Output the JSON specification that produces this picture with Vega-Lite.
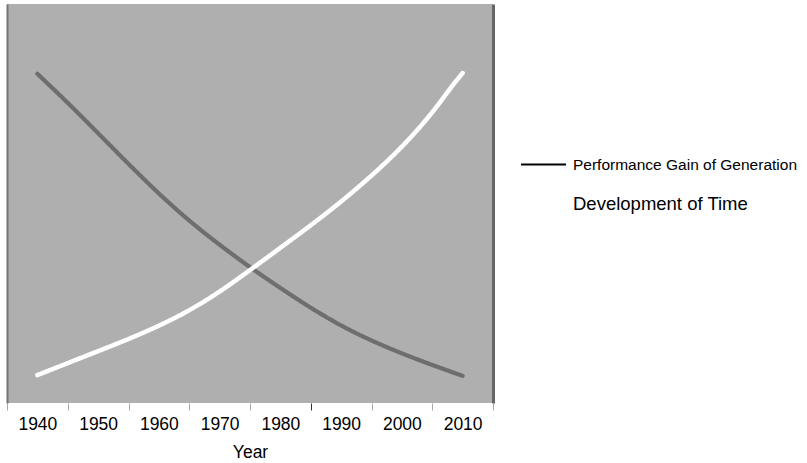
{
  "$schema": "https://vega.github.io/schema/vega-lite/v6.json",
  "width": 486,
  "height": 399,
  "padding": {"left": 6, "top": 4, "right": 5, "bottom": 5},
  "background": "white",
  "config": {
    "view": {"fill": "#afafaf", "stroke": null},
    "font": "Liberation Sans",
    "axis": {"grid": false, "labelFont": "Liberation Sans", "titleFont": "Liberation Sans", "labelColor": "black", "titleColor": "black"},
    "legend": {"labelFont": "Liberation Sans", "titleFont": "Liberation Sans"}
  },
  "data": {
    "values": [
      {"year": 1940, "value": 82.5, "series": "Performance Gain of Generation"},
      {"year": 1945, "value": 75.3, "series": "Performance Gain of Generation"},
      {"year": 1950, "value": 67.6, "series": "Performance Gain of Generation"},
      {"year": 1955, "value": 59.9, "series": "Performance Gain of Generation"},
      {"year": 1960, "value": 52.4, "series": "Performance Gain of Generation"},
      {"year": 1965, "value": 45.6, "series": "Performance Gain of Generation"},
      {"year": 1970, "value": 39.6, "series": "Performance Gain of Generation"},
      {"year": 1975, "value": 34.0, "series": "Performance Gain of Generation"},
      {"year": 1980, "value": 28.8, "series": "Performance Gain of Generation"},
      {"year": 1985, "value": 23.8, "series": "Performance Gain of Generation"},
      {"year": 1990, "value": 19.3, "series": "Performance Gain of Generation"},
      {"year": 1995, "value": 15.6, "series": "Performance Gain of Generation"},
      {"year": 2000, "value": 12.4, "series": "Performance Gain of Generation"},
      {"year": 2005, "value": 9.5, "series": "Performance Gain of Generation"},
      {"year": 2010, "value": 6.8, "series": "Performance Gain of Generation"},
      {"year": 1940, "value": 7.0, "series": "Development of Time"},
      {"year": 1945, "value": 10.0, "series": "Development of Time"},
      {"year": 1950, "value": 13.0, "series": "Development of Time"},
      {"year": 1955, "value": 16.0, "series": "Development of Time"},
      {"year": 1960, "value": 19.3, "series": "Development of Time"},
      {"year": 1965, "value": 23.1, "series": "Development of Time"},
      {"year": 1970, "value": 27.8, "series": "Development of Time"},
      {"year": 1975, "value": 33.3, "series": "Development of Time"},
      {"year": 1980, "value": 38.9, "series": "Development of Time"},
      {"year": 1985, "value": 44.5, "series": "Development of Time"},
      {"year": 1990, "value": 50.4, "series": "Development of Time"},
      {"year": 1995, "value": 56.9, "series": "Development of Time"},
      {"year": 2000, "value": 64.0, "series": "Development of Time"},
      {"year": 2005, "value": 72.6, "series": "Development of Time"},
      {"year": 2008, "value": 79.0, "series": "Development of Time"},
      {"year": 2010, "value": 82.7, "series": "Development of Time"}
    ]
  },
  "encoding": {
    "strokeDash": {
      "field": "series",
      "type": "nominal",
      "scale": {"domain": ["Performance Gain of Generation", "Development of Time"], "range": [[1, 0], [1, 0]]},
      "legend": {
        "title": null,
        "orient": "none",
        "legendX": 513,
        "legendY": 137,
        "padding": 0,
        "symbolType": "stroke",
        "symbolSize": 2025,
        "symbolStrokeColor": "black",
        "symbolStrokeWidth": 1.8,
        "symbolDash": [1, 0],
        "symbolOpacity": {"expr": "datum.value == 'Development of Time' ? 0 : 1"},
        "labelFontSize": {"expr": "datum.value == 'Development of Time' ? 18.5 : 15.5"},
        "labelColor": "black",
        "labelOffset": 6,
        "labelLimit": 400,
        "rowPadding": 7
      }
    }
  },
  "layer": [
    {
      "transform": [{"filter": "datum.series == 'Performance Gain of Generation'"}],
      "mark": {"type": "line", "color": "#6e6e6e", "strokeWidth": 4.2, "strokeCap": "round", "interpolate": "basis"},
      "encoding": {
        "x": {
          "field": "year", "type": "quantitative",
          "scale": {"domain": [1935, 2015], "nice": false, "zero": false},
          "axis": {
            "values": [1940, 1950, 1960, 1970, 1980, 1990, 2000, 2010],
            "format": "d", "ticks": false, "tickSize": 0, "domain": false,
            "labelFontSize": 17.5, "labelPadding": 12,
            "title": "Year", "titleFontSize": 17.5, "titleFontWeight": "normal", "titlePadding": 11
          }
        },
        "y": {
          "field": "value", "type": "quantitative",
          "scale": {"domain": [0, 100], "nice": false},
          "axis": {"orient": "left", "labels": false, "ticks": false, "title": null, "domain": true, "domainColor": "#747474", "domainWidth": 2}
        }
      }
    },
    {
      "transform": [{"filter": "datum.series == 'Development of Time'"}],
      "mark": {"type": "line", "color": "#ffffff", "strokeWidth": 4.5, "strokeCap": "round", "interpolate": "basis"},
      "encoding": {
        "x": {
          "field": "year", "type": "quantitative",
          "axis": {
            "orient": "bottom",
            "values": [1935, 1945, 1955, 1965, 1975, 1985, 1995, 2005, 2015],
            "labels": false, "ticks": true, "tickSize": 7, "tickWidth": 1,
            "tickColor": {"condition": {"test": "datum.value == 1985", "value": "#333333"}, "value": "#a8a8a8"},
            "domain": false, "title": null
          }
        },
        "y": {
          "field": "value", "type": "quantitative",
          "axis": {"orient": "right", "labels": false, "ticks": false, "title": null, "domain": true, "domainColor": "#666666", "domainWidth": 3}
        }
      }
    }
  ],
  "resolve": {"axis": {"x": "independent", "y": "independent"}}
}
